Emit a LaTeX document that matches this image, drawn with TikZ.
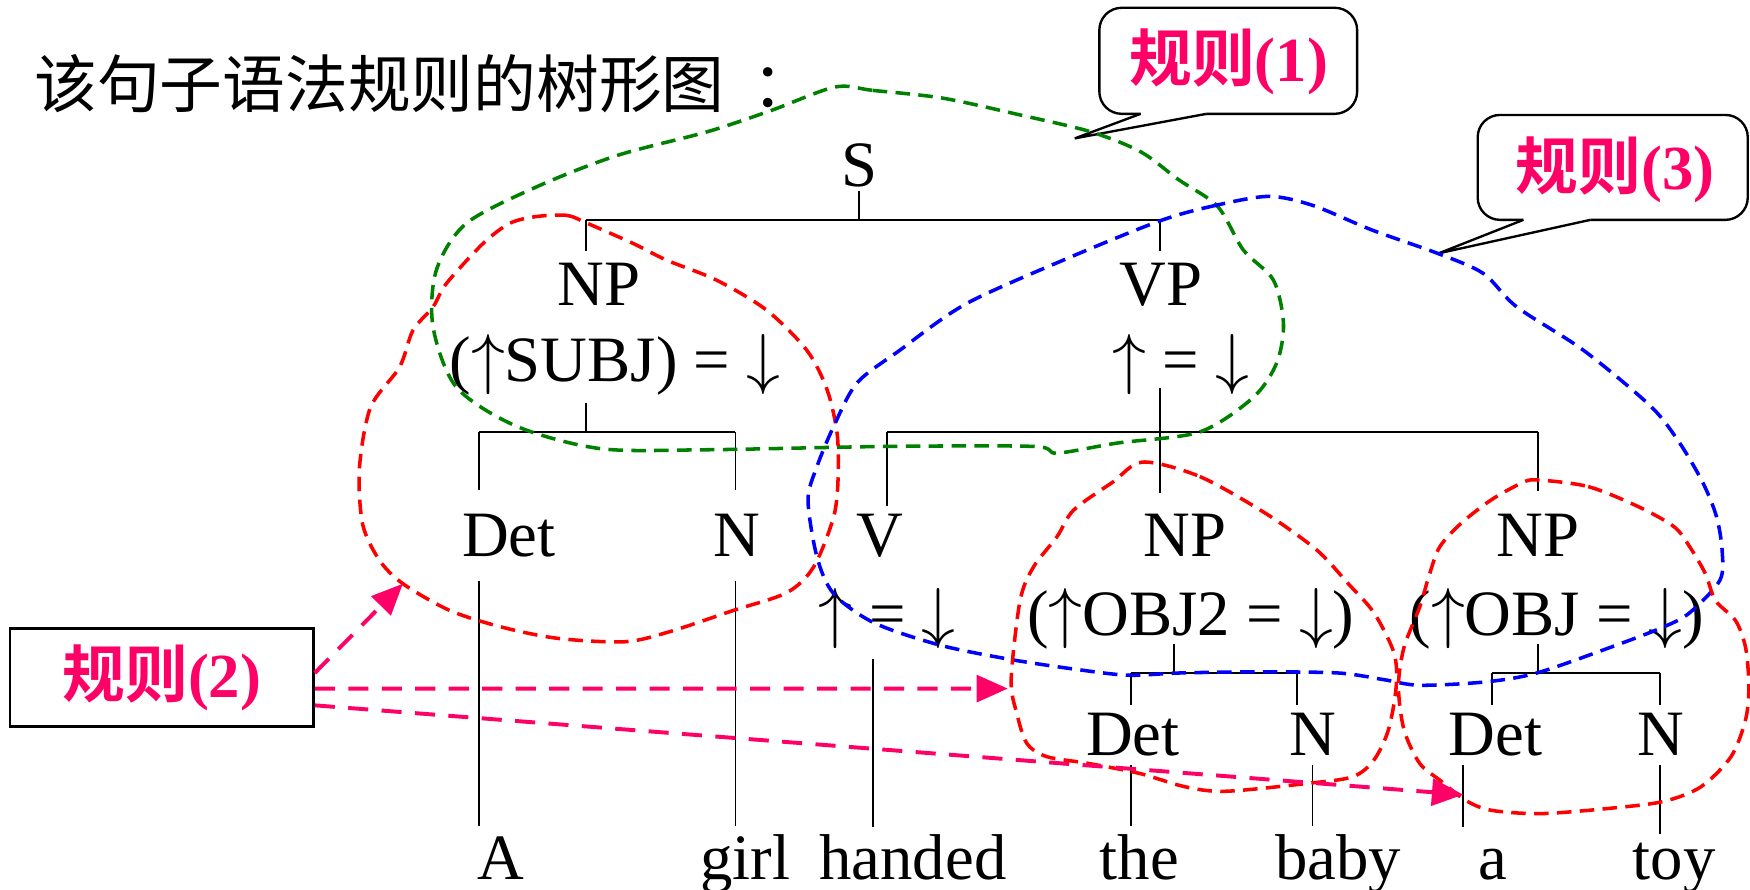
\documentclass[tikz,border=0pt]{standalone}
\usepackage{fontspec}
\setmainfont{Liberation Serif}
\newfontfamily\cjk{Noto Sans CJK SC}[BoldFont=* Bold]
\usetikzlibrary{arrows.meta}
\definecolor{rulepink}{RGB}{255,0,102}
\definecolor{rulegreen}{RGB}{0,128,0}
\newcommand{\upar}{\ensuremath{\uparrow}}
\newcommand{\dnar}{\ensuremath{\downarrow}}
\newcommand{\treefont}{\fontsize{16.5pt}{19pt}\selectfont}
\newcommand{\rulefont}{\fontsize{16pt}{19pt}\selectfont\bfseries}

\begin{document}
\begin{tikzpicture}[x=0.1mm, y=-0.1mm,
    lbl/.style={inner sep=0pt, anchor=base, text height=4mm, text depth=0pt, font=\treefont},
    branch/.style={line width=0.5pt},
    loop/.style={line width=0.9pt, dash pattern=on 1.3mm off 0.75mm},
    rulelbl/.style={inner sep=0pt, text=rulepink, font=\rulefont},
    callout/.style={draw, line width=0.6pt, fill=white},
    rulearrow/.style={rulepink, line width=1pt, dash pattern=on 1.8mm off 1.2mm, -{Triangle[length=2.8mm, width=2.4mm]}}]
        \useasboundingbox (0,0) rectangle (1568,797);
        \fill[white] (0,0) rectangle (1568,797);

        \node[anchor=base west, inner sep=0pt, font=\cjk\fontsize{16pt}{18pt}\selectfont] (title) at (30,96) {该句子语法规则的树形图\hspace{0.45em}：};

        \draw[callout, rounded corners=2mm] (985,7) rectangle (1216,102);
        \fill[white] (1022,99) -- (1081,99) -- (1081,102) -- (963,124) -- (1022,102) -- cycle;
        \draw[line width=0.6pt] (1022,102) -- (963,124) -- (1081,102);
        \node[rulelbl] (rule1) at (1101,55) {{\cjk 规则}(1)};

        \draw[callout, rounded corners=2mm] (1324,103) rectangle (1566,197);
        \fill[white] (1365,194) -- (1425,194) -- (1425,197) -- (1289,227) -- (1365,197) -- cycle;
        \draw[line width=0.6pt] (1365,197) -- (1289,227) -- (1425,197);
        \node[rulelbl] (rule3) at (1447,152) {{\cjk 规则}(3)};

        \node[rulelbl, draw=black, line width=0.6pt, minimum width=27.2mm, minimum height=8.8mm] (rule2) at (145,607) {{\cjk 规则}(2)};

        \node[lbl] (S) at (770,167) {S};
        \node[lbl] (NPa) at (537,274) {NP};
        \node[lbl] (fa) at (551,342) {(\upar SUBJ) = \dnar};
        \node[lbl] (VP) at (1040,274) {VP};
        \node[lbl] (fvp) at (1058,342) {\upar{} = \dnar};
        \node[lbl] (DetA) at (456,499) {Det};
        \node[lbl] (NA) at (660,499) {N};
        \node[lbl] (V) at (788,499) {V};
        \node[lbl] (fv) at (795,569) {\upar{} = \dnar};
        \node[lbl] (NPb) at (1062,499) {NP};
        \node[lbl] (fb) at (1067,569) {(\upar OBJ2 = \dnar)};
        \node[lbl] (NPc) at (1378,499) {NP};
        \node[lbl] (fc) at (1395,569) {(\upar OBJ = \dnar)};
        \node[lbl] (DetB) at (1015,677) {Det};
        \node[lbl] (NB) at (1176,677) {N};
        \node[lbl] (DetC) at (1340,677) {Det};
        \node[lbl] (NC) at (1488,677) {N};

        \node[lbl] (wA) at (449,788) {A};
        \node[lbl] (wgirl) at (668,788) {girl};
        \node[lbl] (whanded) at (818,788) {handed};
        \node[lbl] (wthe) at (1021,788) {the};
        \node[lbl] (wbaby) at (1199,788) {baby};
        \node[lbl] (wa) at (1338,788) {a};
        \node[lbl] (wtoy) at (1500,788) {toy};

        \coordinate (sl) at (525,197);
        \coordinate (sr) at (1039,197);
        \coordinate (al) at (429,387);
        \coordinate (ar) at (659,387);
        \coordinate (vl) at (795,387);
        \coordinate (vr) at (1378,387);
        \coordinate (bl) at (1013,603);
        \coordinate (bm) at (1052,603);
        \coordinate (br) at (1162,603);
        \coordinate (cl) at (1337,603);
        \coordinate (cr) at (1487,603);
        \coordinate (hd) at (782,741);
        \coordinate (aa) at (1311,741);

        \draw[branch, shorten <=0.3mm] (S.south) -- (S.south |- sl);
        \draw[branch] (sl) -- (sr);
        \draw[branch, shorten >=0.8mm] (sl) -- (sl |- NPa.north);
        \draw[branch, shorten >=0.8mm] (sr) -- (sr |- VP.north);
        \draw[branch, shorten <=1.8mm] (sl |- fa.south) -- (sl |- al);
        \draw[branch] (al) -- (ar);
        \draw[branch, shorten >=1.9mm] (al) -- (al |- DetA.north);
        \draw[branch, shorten >=1.9mm] (ar) -- (ar |- NA.north);
        \draw[branch, shorten <=2.1mm, shorten >=0.7mm] (al |- DetA.south) -- (al |- wA.north);
        \draw[branch, shorten <=2.1mm, shorten >=0.7mm] (ar |- NA.south) -- (ar |- wgirl.north);
        \draw[branch, shorten <=0.5mm, shorten >=1.7mm] (sr |- fvp.south) -- (sr |- NPb.north);
        \draw[branch] (vl) -- (vr);
        \draw[branch, shorten >=0.5mm] (vl) -- (vl |- V.north);
        \draw[branch, shorten >=1.8mm] (vr) -- (vr |- NPc.north);
        \draw[branch, shorten <=2.1mm] (hd |- fv.south) -- (hd);
        \draw[branch, shorten <=0.7mm] (bm |- fb.south) -- (bm);
        \draw[branch] (bl) -- (br);
        \draw[branch, shorten >=0.5mm] (bl) -- (bl |- DetB.north);
        \draw[branch, shorten >=0.5mm] (br) -- (br |- NB.north);
        \draw[branch, shorten <=0.8mm, shorten >=0.7mm] (bl |- DetB.south) -- (bl |- wthe.north);
        \draw[branch, shorten <=0.8mm, shorten >=0.7mm] (NB.south) -- (NB.south |- wbaby.north);
        \draw[branch, shorten <=0.7mm] (vr |- fc.south) -- (vr |- cl);
        \draw[branch] (cl) -- (cr);
        \draw[branch, shorten >=0.5mm] (cl) -- (cl |- DetC.north);
        \draw[branch, shorten >=0.5mm] (cr) -- (cr |- NC.north);
        \draw[branch, shorten <=0.8mm] (aa |- DetC.south) -- (aa);
        \draw[branch, shorten <=0.8mm] (cr |- NC.south) -- (cr |- wtoy.north);

        \draw[loop, rulegreen] plot[smooth cycle] coordinates {(748,78) (782,81) (845,88) (914,103) (977,118) (1022,136) (1056,161) (1091,185) (1114,224) (1141,251) (1150,290) (1144,325) (1123,356) (1075,387) (1001,397) (947,406) (926,400) (795,400) (633,403) (538,402) (463,382) (409,347) (388,293) (391,242) (418,200) (484,166) (554,139) (634,118) (691,99)};
        \draw[loop, red] plot[smooth cycle] coordinates {(481,194) (508,193) (526,200) (567,218) (597,233) (642,251) (687,278) (723,314) (741,349) (750,388) (751,427) (747,463) (729,508) (705,531) (657,547) (600,566) (560,575) (500,572) (450,562) (403,547) (361,523) (340,502) (325,470) (322,420) (332,365) (358,329) (370,296) (388,275) (400,254) (433,218) (457,200)};
        \draw[loop, blue] plot[smooth cycle] coordinates {(1039,198) (1085,185) (1136,176) (1176,184) (1229,206) (1288,227) (1329,245) (1359,275) (1419,314) (1479,364) (1505,397) (1526,433) (1538,463) (1543,493) (1541,520) (1514,549) (1490,562) (1443,580) (1377,603) (1331,611) (1272,614) (1240,609) (1199,603) (1125,602) (1057,603) (1011,605) (966,600) (906,591) (842,578) (783,558) (747,532) (732,499) (724,448) (732,418) (747,382) (768,343) (806,314) (866,272) (960,230)};
        \draw[loop, red] plot[smooth cycle] coordinates {(1024,414) (1075,427) (1134,460) (1180,493) (1208,523) (1231,549) (1249,585) (1251,615) (1244,654) (1231,681) (1212,696) (1171,702) (1098,709) (1062,705) (1021,693) (975,684) (938,678) (920,666) (911,639) (906,609) (914,538) (926,508) (947,481) (962,457) (997,432)};
        \draw[loop, red] plot[smooth cycle] coordinates {(1377,430) (1423,436) (1468,454) (1500,472) (1514,490) (1528,514) (1537,538) (1555,556) (1564,580) (1567,615) (1564,645) (1551,678) (1524,705) (1491,718) (1445,724) (1381,729) (1336,726) (1313,717) (1290,699) (1272,684) (1258,654) (1253,615) (1258,580) (1272,544) (1281,514) (1290,490) (1309,469) (1336,448) (1363,433)};

        \coordinate (ta) at (361,523);
        \coordinate (tb) at (903,617);
        \coordinate (tc) at (1311,712);
        \draw[rulearrow] ([yshift=0.4mm]rule2.east) -- (ta);
        \draw[rulearrow] ([yshift=-1mm]rule2.east) -- (tb);
        \draw[rulearrow] ([yshift=-2.5mm]rule2.east) -- (tc);
    \end{tikzpicture}
\end{document}
